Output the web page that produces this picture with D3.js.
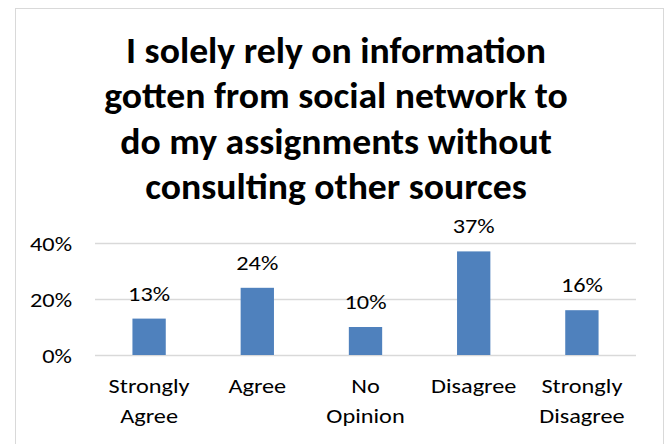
<!DOCTYPE html>
<html><head><meta charset="utf-8">
<script src="https://cdn.jsdelivr.net/npm/d3@7"></script>
<style>body{margin:0;background:#fff}svg{display:block}</style>
</head><body>
<svg id="c" width="666" height="444"></svg>
<script>
const titleLines = ["I solely rely on information","gotten from social network to","do my assignments without","consulting other sources"];
const categories = [["Strongly","Agree"],["Agree"],["No","Opinion"],["Disagree"],["Strongly","Disagree"]];
const values = [0.13,0.24,0.10,0.37,0.16];
const labels = ["13%","24%","10%","37%","16%"];
const yTicks = [0,0.2,0.4];

const svg = d3.select("#c");
const font = "Carlito, Calibri, Lato, 'Open Sans', sans-serif";
svg.append("rect").attr("x",15.5).attr("y",8.5).attr("width",648).attr("height",450)
  .attr("fill","#fff").attr("stroke","#d9d9d9");

const m = {l:95,r:636,t:243,b:355};
const x = d3.scaleBand().domain(d3.range(categories.length)).range([m.l,m.r]).paddingInner(0.692).paddingOuter(0.346);
const y = d3.scaleLinear().domain([0,0.4]).range([m.b,m.t]);

// helper: horizontally stretched text placed at (px,py)
function measure(str, size, weight){
  const t = svg.append("text").attr("font-family",font).attr("font-size",size).attr("font-weight",weight).text(str);
  const w = t.node().getComputedTextLength(); t.remove(); return w;
}
const titleSize = 36, smallSize = 21;
const titleSx = 420 / measure(titleLines[0], titleSize, "bold");
const smallSx = 81 / measure("Strongly", smallSize, "normal");

// title
svg.append("g").selectAll("text").data(titleLines).join("text")
  .attr("transform",(d,i)=>`translate(336,${63+i*45.3}) scale(${titleSx},1)`)
  .attr("text-anchor","middle").attr("font-family",font).attr("font-weight","bold")
  .attr("font-size",titleSize).attr("fill","#000").text(d=>d);

// y axis with gridlines
const yAxis = d3.axisLeft(y).tickValues(yTicks).tickFormat(d3.format(".0%")).tickSize(-(m.r-m.l)).tickPadding(0);
const ga = svg.append("g").attr("transform",`translate(${m.l},0)`).call(yAxis);
ga.select(".domain").remove();
ga.selectAll(".tick line").attr("stroke","#d9d9d9").attr("stroke-width",1.5);
ga.selectAll(".tick text").attr("x",null).attr("dy",null)
  .attr("transform",`translate(-23,7.7) scale(${smallSx},1)`)
  .attr("font-family",font).attr("font-size",smallSize).attr("fill","#000");

// bars
svg.append("g").selectAll("rect").data(values).join("rect")
  .attr("x",(d,i)=>x(i)).attr("width",x.bandwidth())
  .attr("y",d=>y(d)).attr("height",d=>y(0)-y(d)).attr("fill","#4f81bd");

// data labels
svg.append("g").selectAll("text").data(values).join("text")
  .attr("transform",(d,i)=>`translate(${x(i)+x.bandwidth()/2},${y(d)-18}) scale(${smallSx},1)`)
  .attr("text-anchor","middle").attr("font-family",font).attr("font-size",smallSize).attr("fill","#000")
  .text((d,i)=>labels[i]);

// category labels
const xa = d3.axisBottom(x).tickSize(0).tickFormat("");
const gx = svg.append("g").attr("transform",`translate(0,${m.b})`).call(xa);
gx.select(".domain").remove();
gx.selectAll(".tick").each(function(d){
  const g = d3.select(this);
  categories[d].forEach((s,j)=>{
    g.append("text").attr("transform",`translate(0,${38.3+j*29.7}) scale(${smallSx},1)`)
      .attr("text-anchor","middle").attr("font-family",font).attr("font-size",smallSize).attr("fill","#000").text(s);
  });
});
</script>
</body></html>
